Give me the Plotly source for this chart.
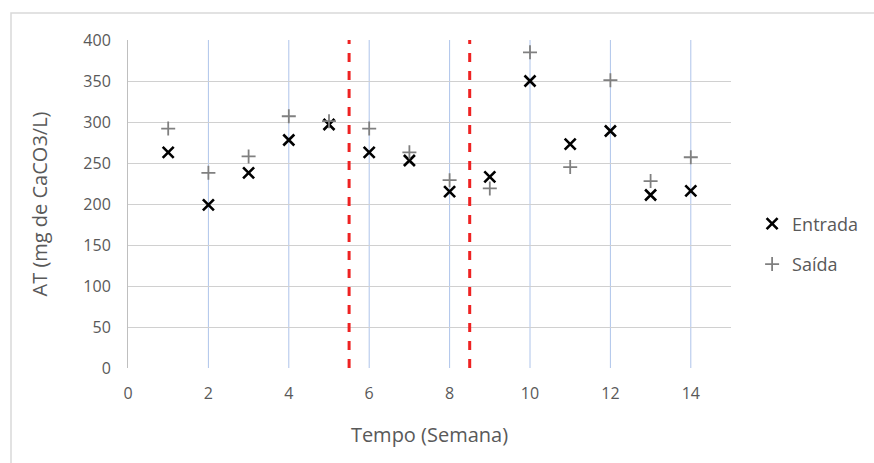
import plotly.graph_objects as go

semanas = list(range(1, 15))
entrada = [263, 199, 238, 278, 297, 263, 253, 215, 233, 350, 273, 289, 211, 216]
saida = [292, 238, 258, 307, 301, 292, 263, 229, 219, 385, 245, 351, 228, 257]
divisoes = [5.5, 8.5]
y_ticks = [0, 50, 100, 150, 200, 250, 300, 350, 400]
x_ticks = [0, 2, 4, 6, 8, 10, 12, 14]

W, H = 874, 463
ML, MR, MT, MB = 128, 143, 40, 95
font = "Open Sans, Noto Sans, sans-serif"
txt = "#595959"

fig = go.Figure()
fig.add_trace(go.Scatter(x=semanas, y=entrada, mode="markers", name="Entrada",
                         legendgroup="a",
                         marker=dict(symbol="x-thin", size=11, color="black",
                                     line=dict(width=2.6, color="black"))))
fig.add_trace(go.Scatter(x=semanas, y=saida, mode="markers", name="Saída",
                         legendgroup="b",
                         marker=dict(symbol="cross-thin", size=10, color="#808080",
                                     line=dict(width=1.8, color="#808080"))))

shapes = []
for xv in x_ticks[1:]:
    shapes.append(dict(type="line", xref="x", yref="y", x0=xv, x1=xv, y0=0, y1=400,
                       line=dict(color="#aec4ea", width=1), layer="below"))
for xv in divisoes:
    shapes.append(dict(type="line", xref="x", yref="y", x0=xv, x1=xv, y0=0, y1=400,
                       line=dict(color="#ee2222", width=3, dash="dash")))
pw = W - ML - MR
ph = H - MT - MB
yb = H - MB
shapes.append(dict(type="rect", xref="paper", yref="paper",
                   x0=(11 - ML) / pw, x1=(W + 5 - ML) / pw,
                   y0=(yb - (H + 5)) / ph, y1=(yb - 13) / ph,
                   line=dict(color="#d9d9d9", width=1.5), layer="below"))

fig.update_layout(
    width=W, height=H, margin=dict(l=ML, r=MR, t=MT, b=MB, autoexpand=False),
    paper_bgcolor="white", plot_bgcolor="white",
    font=dict(family=font, color=txt, size=16),
    shapes=shapes,
    showlegend=True,
    legend=dict(x=1.035, y=(yb - 244) / ph, xanchor="left", yanchor="middle",
                font=dict(size=18, color=txt), itemsizing="trace",
                tracegroupgap=14, bgcolor="rgba(0,0,0,0)"),
    xaxis=dict(range=[0, 15], tickvals=x_ticks, showgrid=False, zeroline=False,
               showline=False, ticks="", tickfont=dict(size=16, color=txt),
               ticklabelstandoff=14,
               title=dict(text="Tempo (Semana)", font=dict(size=20, color=txt), standoff=24)),
    yaxis=dict(range=[0, 400], tickvals=y_ticks, showgrid=True, gridcolor="#d0d0d0",
               gridwidth=1, zeroline=False, showline=True, linecolor="#bfbfbf",
               ticks="", tickfont=dict(size=16, color=txt), ticklabelstandoff=13,
               title=dict(text="AT (mg de CaCO3/L)", font=dict(size=20, color=txt), standoff=30)),
)
fig.write_html("out.html")
